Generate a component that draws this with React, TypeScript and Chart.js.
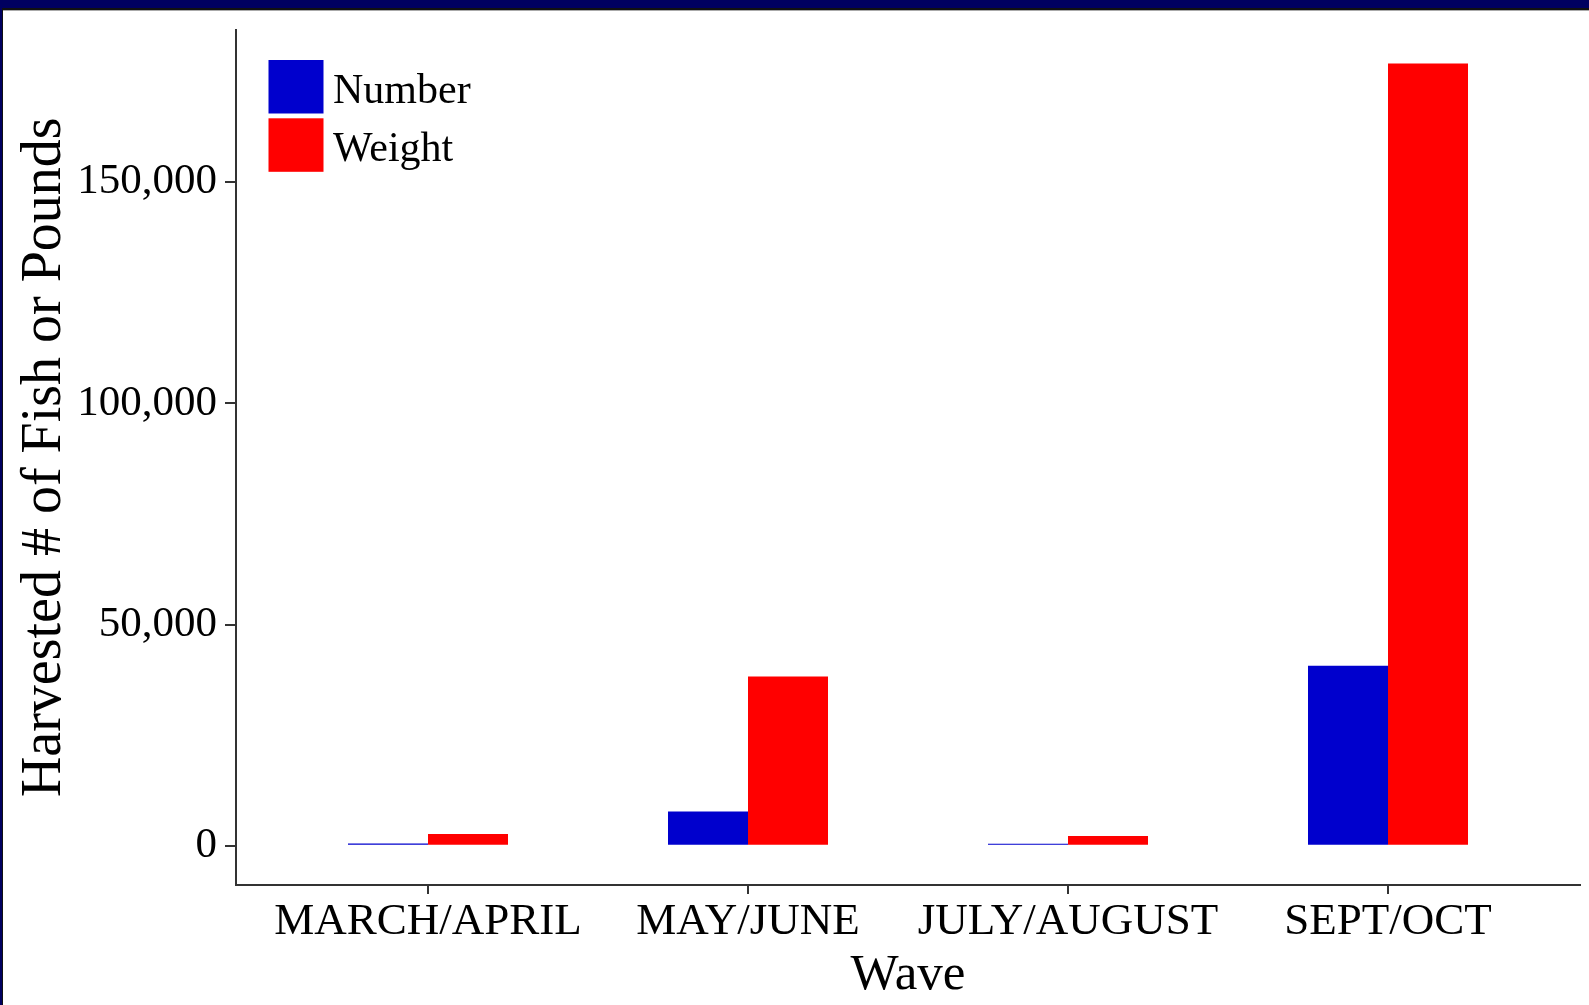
import React, { useEffect, useRef } from 'react';
import { Chart, registerables } from 'chart.js';

Chart.register(...registerables);

const categories = ['MARCH/APRIL', 'MAY/JUNE', 'JULY/AUGUST', 'SEPT/OCT'];
const numberValues = [550, 7750, 450, 40700];
const weightValues = [2650, 38300, 2250, 176800];
const yTickValues = [0, 50000, 100000, 150000];
const seriesLabels = ['Number', 'Weight'];
const seriesColors = ['#0000CD', '#FF0000'];
const yMin = -8850;
const yMax = 184500;

const FAMILY = '"Liberation Serif", "Times New Roman", serif';

export default function App() {
  const ref = useRef<HTMLCanvasElement>(null);

  useEffect(() => {
    const canvas = ref.current;
    if (!canvas) return;
    const seriesData = [numberValues, weightValues];

    const legendPlugin = {
      id: 'ggLegend',
      afterDraw(chart: any) {
        const ctx = chart.ctx;
        ctx.save();
        chart.data.datasets.forEach((ds: any, i: number) => {
          const y = 60 + i * 58.3;
          ctx.fillStyle = ds.backgroundColor;
          ctx.fillRect(268.5, y, 55, 53.5);
          ctx.fillStyle = '#000';
          ctx.font = `42px ${FAMILY}`;
          ctx.textBaseline = 'middle';
          ctx.textAlign = 'left';
          ctx.fillText(ds.label, 333, y + 32);
        });
        ctx.restore();
      },
    };

    const chart = new Chart(canvas, {
      type: 'bar',
      data: {
        datasets: seriesLabels.map((label, s) => ({
          label,
          data: seriesData[s].map((v, i) => ({ x: i, y: v })),
          backgroundColor: seriesColors[s],
          borderWidth: 0,
          categoryPercentage: 0.5,
          barPercentage: 1,
        })),
      } as any,
      options: {
        animation: false,
        responsive: false,
        layout: { padding: { left: 0, top: 26, right: 9, bottom: 0 } },
        plugins: { legend: { display: false }, tooltip: { enabled: false } },
        scales: {
          x: {
            type: 'linear',
            min: -0.6,
            max: categories.length - 0.4,
            offset: false,
            afterBuildTicks: (s: any) => {
              s.ticks = categories.map((_, i) => ({ value: i }));
            },
            afterFit: (s: any) => {
              s.height = 120;
            },
            ticks: {
              callback: (v: any) => categories[Number(v)] ?? '',
              font: { family: FAMILY, size: 45, lineHeight: 1 },
              color: '#000',
              padding: 6,
              maxRotation: 0,
              autoSkip: false,
            },
            grid: {
              display: true,
              drawOnChartArea: false,
              drawTicks: true,
              tickLength: 9,
              color: '#333',
              lineWidth: 2,
              offset: false,
            },
            border: { display: true, color: '#333', width: 2 },
            title: {
              display: true,
              text: 'Wave',
              font: { family: FAMILY, size: 51, lineHeight: 1 },
              color: '#000',
              padding: { top: 0, bottom: 4 },
            },
          },
          y: {
            type: 'linear',
            min: yMin,
            max: yMax,
            afterBuildTicks: (s: any) => {
              s.ticks = yTickValues.map((v) => ({ value: v }));
            },
            afterFit: (s: any) => {
              s.width = 236;
            },
            ticks: {
              callback: (v: any) => Number(v).toLocaleString('en-US'),
              font: { family: FAMILY, size: 43, lineHeight: 1 },
              color: '#000',
              padding: 8,
            },
            grid: {
              display: true,
              drawOnChartArea: false,
              drawTicks: true,
              tickLength: 11,
              color: '#333',
              lineWidth: 2,
            },
            border: { display: true, color: '#333', width: 2 },
            title: {
              display: true,
              text: 'Harvested # of Fish or Pounds',
              font: { family: FAMILY, size: 56, lineHeight: 1 },
              color: '#000',
              padding: { top: 17, bottom: 0 },
            },
          },
        },
      } as any,
      plugins: [legendPlugin],
    });

    return () => {
      chart.destroy();
    };
  }, []);

  return (
    <div style={{ position: 'fixed', left: 0, top: 0, width: 1589, height: 1005, background: '#fff', overflow: 'hidden' }}>
      <canvas ref={ref} width={1589} height={1005} style={{ position: 'absolute', left: 0, top: 0, width: 1589, height: 1005 }} />
      <div style={{ position: 'absolute', left: 0, top: 0, width: 1589, height: 8, background: '#000060' }} />
      <div style={{ position: 'absolute', left: 0, top: 8, width: 1589, height: 2, background: '#111' }} />
      <div style={{ position: 'absolute', left: 0, top: 10, width: 1589, height: 1, background: '#aaa' }} />
      <div style={{ position: 'absolute', left: 0, top: 0, width: 2, height: 1005, background: '#000060' }} />
      <div style={{ position: 'absolute', left: 2, top: 10, width: 1, height: 995, background: '#111' }} />
    </div>
  );
}
